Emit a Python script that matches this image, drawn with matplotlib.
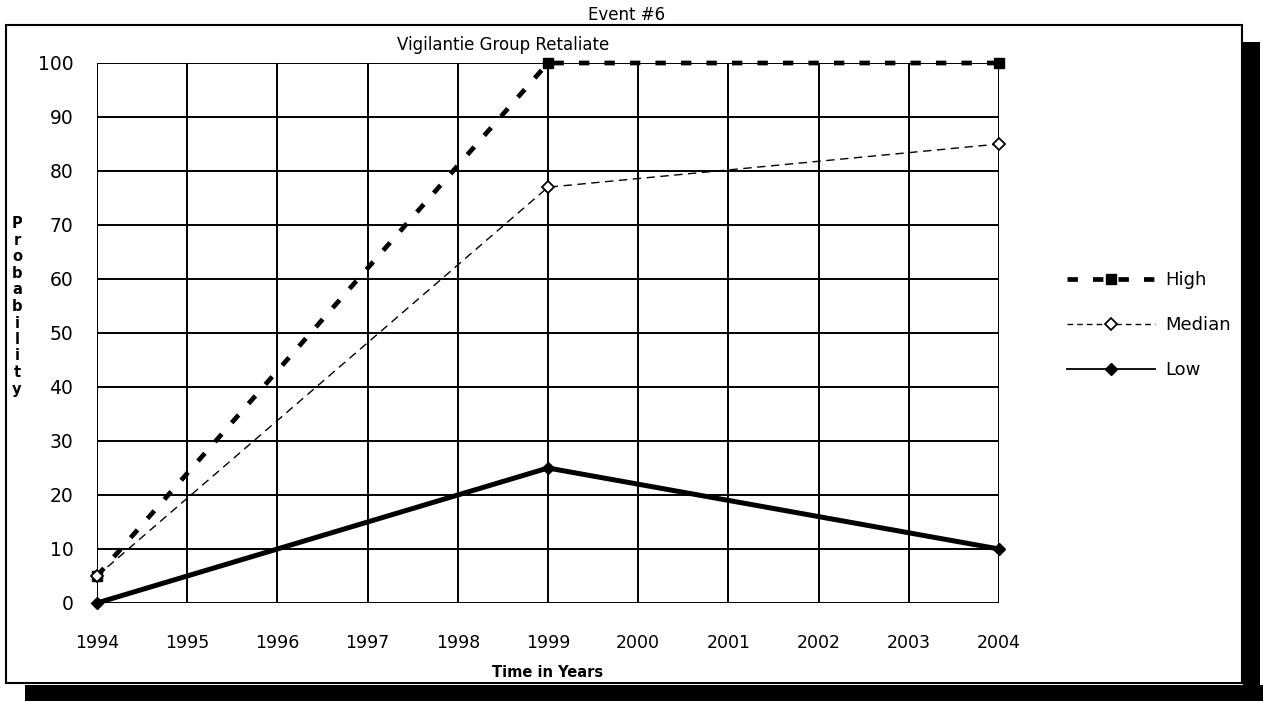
import matplotlib
matplotlib.use("Agg")
import matplotlib.pyplot as plt
from matplotlib.patches import Rectangle
from matplotlib.lines import Line2D

years = [1994, 1999, 2004]
high = [5, 100, 100]
median = [5, 77, 85]
low = [0, 25, 10]
xticks = list(range(1994, 2005))
yticks = list(range(0, 101, 10))
series_names = ["High", "Median", "Low"]

W, H = 1263, 701
fig = plt.figure(figsize=(W / 100, H / 100), dpi=100)
ax = fig.add_axes([97 / W, 1 - 603 / H, (999 - 97) / W, (603 - 63) / H])

high_dash = (0, (2.2, 3.2))
ax.plot(years, high, color="black", lw=3.4, ls=high_dash, marker="s", ms=7,
        clip_on=False, zorder=4)
ax.plot(years, median, color="black", lw=1.0, ls=(0, (6, 4)), marker="D", ms=6.5,
        markerfacecolor="white", markeredgecolor="black", markeredgewidth=1.3,
        clip_on=False, zorder=5)
ax.plot(years, low, color="black", lw=3.6, ls="-", marker="D", ms=6,
        clip_on=False, zorder=3)

ax.set_xlim(1994, 2004)
ax.set_ylim(0, 100)
ax.set_xticks(xticks)
ax.set_yticks(yticks)
ax.grid(True, color="black", lw=1.4)
for s in ax.spines.values():
    s.set_visible(False)
ax.tick_params(axis="x", length=0, pad=22, labelsize=12.5)
ax.tick_params(axis="y", length=0, pad=17, labelsize=13.5)
ax.set_xlabel("Time in Years", fontsize=10.5, fontweight="bold", labelpad=10)

ax.text(1998.5, 101.7, "Vigilantie Group Retaliate", ha="center", va="bottom", fontsize=12)
fig.text(627 / W, 1 - 15 / H, "Event #6", ha="center", va="center", fontsize=12)

ylab = "Probability"
for i, ch in enumerate(ylab):
    fig.text(17 / W, 1 - (224 + i * 16.5) / H, ch, ha="center", va="center",
             fontsize=10.5, fontweight="bold")

handles = [
    Line2D([], [], color="black", lw=3.4, ls=high_dash, marker="s", ms=7),
    Line2D([], [], color="black", lw=1.0, ls=(0, (4, 3)), marker="D", ms=6.5,
           markerfacecolor="white", markeredgewidth=1.3),
    Line2D([], [], color="black", lw=1.3, ls="-", marker="D", ms=6),
]
fig.legend(handles, series_names, loc="upper left",
           bbox_to_anchor=(1067 / W, 1 - 271 / H), frameon=False, borderpad=0,
           borderaxespad=0, fontsize=13, handlelength=4.9, handletextpad=0.55,
           labelspacing=1.5)

# outer frame and shadow
fig.patches.append(Rectangle((6 / W, 1 - 683 / H), (1242 - 6) / W, (683 - 25) / H,
                             transform=fig.transFigure, fill=False, ec="black", lw=1.5))
fig.patches.append(Rectangle((1243 / W, 1 - 686 / H), 17 / W, (686 - 42) / H,
                             transform=fig.transFigure, fc="black", ec="none"))
fig.patches.append(Rectangle((25 / W, 0), (W - 25) / W, 16 / H,
                             transform=fig.transFigure, fc="black", ec="none"))

fig.savefig("out.png", dpi=100)
